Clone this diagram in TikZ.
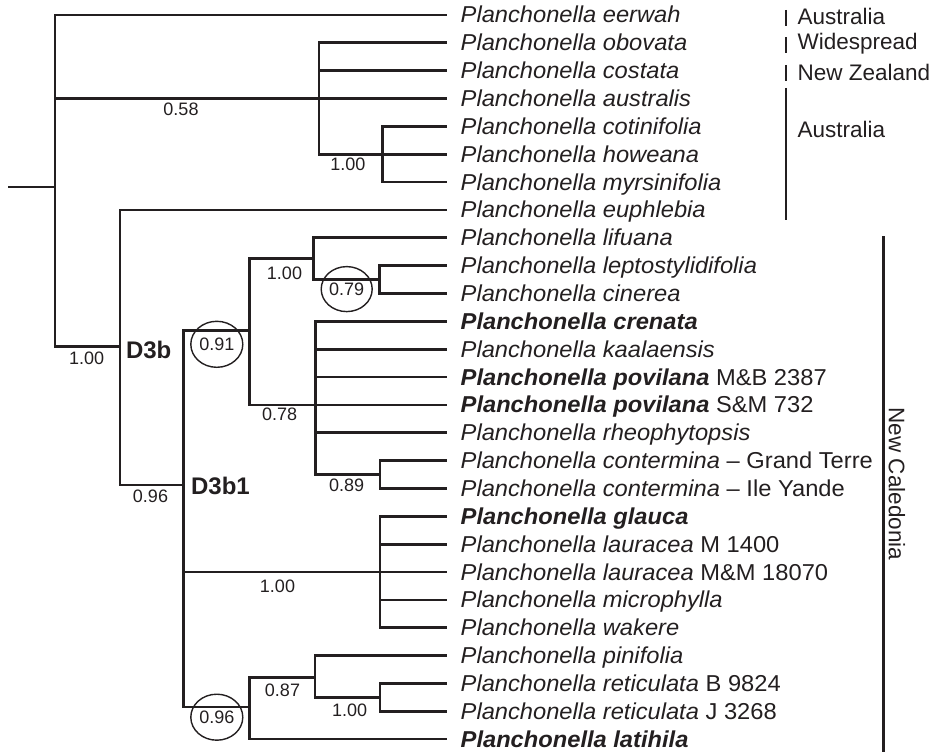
\documentclass[tikz,border=0pt]{standalone}
\usepackage{fontspec}
\setmainfont{Liberation Sans}
\newfontfamily\leaffont{Liberation Sans}[FakeStretch=1.03]
\usetikzlibrary{shapes.geometric}
\definecolor{ink}{HTML}{231F20}
\begin{document}
\begin{tikzpicture}[x=1pt,y=-1pt,
 br/.style={draw=ink,line width=2.7pt},
 leaf/.style={anchor=west,inner xsep=13.5pt,inner ysep=0pt,text height=16pt,text depth=0pt,font=\leaffont\fontsize{23}{27}\selectfont\itshape,text=ink},
 sup/.style={font=\fontsize{18}{21}\selectfont,text=ink,inner sep=0pt},
 circ/.style={sup,draw=ink,line width=1.4pt,ellipse,minimum width=52pt,minimum height=46pt},
 clade/.style={font=\fontsize{24}{28}\selectfont\bfseries,text=ink,inner sep=0pt},
 region/.style={font=\fontsize{22.5}{27}\selectfont,text=ink,inner sep=0pt},
 bar/.style={draw=ink,line width=2.8pt}]
\useasboundingbox (0,0) rectangle (940,752);
% leaves
\node[leaf] (l1) at (447,15) {Planchonella eerwah};
\node[leaf] (l2) at (447,42.85) {Planchonella obovata};
\node[leaf] (l3) at (447,70.7) {Planchonella costata};
\node[leaf] (l4) at (447,98.55) {Planchonella australis};
\node[leaf] (l5) at (447,126.4) {Planchonella cotinifolia};
\node[leaf] (l6) at (447,154.25) {Planchonella howeana};
\node[leaf] (l7) at (447,182.1) {Planchonella myrsinifolia};
\node[leaf] (l8) at (447,209.95) {Planchonella euphlebia};
\node[leaf] (l9) at (447,237.8) {Planchonella lifuana};
\node[leaf] (l10) at (447,265.65) {Planchonella leptostylidifolia};
\node[leaf] (l11) at (447,293.5) {Planchonella cinerea};
\node[leaf] (l12) at (447,321.35) {\bfseries Planchonella crenata};
\node[leaf] (l13) at (447,349.2) {Planchonella kaalaensis};
\node[leaf] (l14) at (447,377.05) {{\bfseries Planchonella povilana}\textup{ M\&B 2387}};
\node[leaf] (l15) at (447,404.9) {{\bfseries Planchonella povilana}\textup{ S\&M 732}};
\node[leaf] (l16) at (447,432.75) {Planchonella rheophytopsis};
\node[leaf] (l17) at (447,460.6) {Planchonella contermina\textup{ – Grand Terre}};
\node[leaf] (l18) at (447,488.45) {Planchonella contermina\textup{ – Ile Yande}};
\node[leaf] (l19) at (447,516.3) {\bfseries Planchonella glauca};
\node[leaf] (l20) at (447,544.15) {Planchonella lauracea\textup{ M 1400}};
\node[leaf] (l21) at (447,572) {Planchonella lauracea\textup{ M\&M 18070}};
\node[leaf] (l22) at (447,599.85) {Planchonella microphylla};
\node[leaf] (l23) at (447,627.7) {Planchonella wakere};
\node[leaf] (l24) at (447,655.55) {Planchonella pinifolia};
\node[leaf] (l25) at (447,683.4) {Planchonella reticulata\textup{ B 9824}};
\node[leaf] (l26) at (447,711.25) {Planchonella reticulata\textup{ J 3268}};
\node[leaf] (l27) at (447,739.1) {\bfseries Planchonella latihila};
% internal nodes
\coordinate (stub) at (8,187);
\coordinate (root) at (55,187);
\coordinate (nA) at (319,98.55);
\coordinate (nB) at (382.7,154.25);
\coordinate (nD3b) at (120,346.7);
\coordinate (nD3b1) at (183.3,485);
\coordinate (n91) at (249.3,330.7);
\coordinate (n100a) at (313.3,258.5);
\coordinate (n79) at (379.3,279.6);
\coordinate (n78) at (315.7,404.9);
\coordinate (n89) at (380,474.5);
\coordinate (nL) at (380,572);
\coordinate (n96) at (249.3,707);
\coordinate (n87) at (315,677.5);
\coordinate (n100b) at (380,697.3);
% branches
\draw[br] (stub) -- (root);
\draw[br] (root) |- (l1.west);
\draw[br] (root) |- (nA);
\draw[br] (root) |- (nD3b);
\draw[br] (nA) |- (l2.west);
\draw[br] (nA) |- (l3.west);
\draw[br] (nA) -- (l4.west);
\draw[br] (nA) |- (nB);
\draw[br] (nB) |- (l5.west);
\draw[br] (nB) -- (l6.west);
\draw[br] (nB) |- (l7.west);
\draw[br] (nD3b) |- (l8.west);
\draw[br] (nD3b) |- (nD3b1);
\draw[br] (nD3b1) |- (n91);
\draw[br] (nD3b1) |- (nL);
\draw[br] (nD3b1) |- (n96);
\draw[br] (n91) |- (n100a);
\draw[br] (n91) |- (n78);
\draw[br] (n100a) |- (l9.west);
\draw[br] (n100a) |- (n79);
\draw[br] (n79) |- (l10.west);
\draw[br] (n79) |- (l11.west);
\draw[br] (n78) |- (l12.west);
\draw[br] (n78) |- (l13.west);
\draw[br] (n78) |- (l14.west);
\draw[br] (n78) -- (l15.west);
\draw[br] (n78) |- (l16.west);
\draw[br] (n78) |- (n89);
\draw[br] (n89) |- (l17.west);
\draw[br] (n89) |- (l18.west);
\draw[br] (nL) |- (l19.west);
\draw[br] (nL) |- (l20.west);
\draw[br] (nL) -- (l21.west);
\draw[br] (nL) |- (l22.west);
\draw[br] (nL) |- (l23.west);
\draw[br] (n96) |- (n87);
\draw[br] (n96) |- (l27.west);
\draw[br] (n87) |- (l24.west);
\draw[br] (n87) |- (n100b);
\draw[br] (n100b) |- (l25.west);
\draw[br] (n100b) |- (l26.west);
% support values
\node[sup] (s58) at (181,109) {0.58};
\node[sup] (s100b1) at (347.8,164.5) {1.00};
\node[sup] (s100d) at (86.7,358.8) {1.00};
\node[sup] (s96a) at (150.5,496.7) {0.96};
\node[sup] (s100a) at (284.5,273) {1.00};
\node[sup] (s78) at (279.7,414.5) {0.78};
\node[sup] (s89) at (346.7,485.5) {0.89};
\node[sup] (s100l) at (277.5,586) {1.00};
\node[sup] (s87) at (282.5,690) {0.87};
\node[sup] (s100r) at (349.7,710.3) {1.00};
\node[circ] (c91) at (216.8,344.3) {0.91};
\node[circ,minimum width=51pt,minimum height=45pt] (c79) at (346.7,289.1) {0.79};
\node[circ] (c96) at (216.8,717.2) {0.96};
% clade names
\node[clade] (d3b) at (148.7,350) {D3b};
\node[clade] (d3b1) at (220.5,486.2) {D3b1};
% regions
\coordinate (b1t) at (786,10); \coordinate (b1b) at (786,26);
\coordinate (b2t) at (786,37.5); \coordinate (b2b) at (786,53);
\coordinate (b3t) at (786,65); \coordinate (b3b) at (786,80.7);
\coordinate (b4t) at (786,88); \coordinate (b4b) at (786,220);
\coordinate (b5t) at (883.3,236); \coordinate (b5b) at (883.3,752);
\draw[bar] (b1t) -- (b1b);
\draw[bar] (b2t) -- (b2b);
\draw[bar] (b3t) -- (b3b);
\draw[bar] (b4t) -- (b4b);
\draw[bar] (b5t) -- (b5b);
\node[region,anchor=west] (r1) at (797.5,16) {Australia};
\node[region,anchor=west] (r2) at (797.5,44) {Widespread};
\node[region,anchor=west] (r3) at (797.5,72) {New Zealand};
\node[region,anchor=west] (r4) at (797.5,129.5) {Australia};
\node[region,rotate=-90] (r5) at (897,484) {New Caledonia};
\end{tikzpicture}
\end{document}
